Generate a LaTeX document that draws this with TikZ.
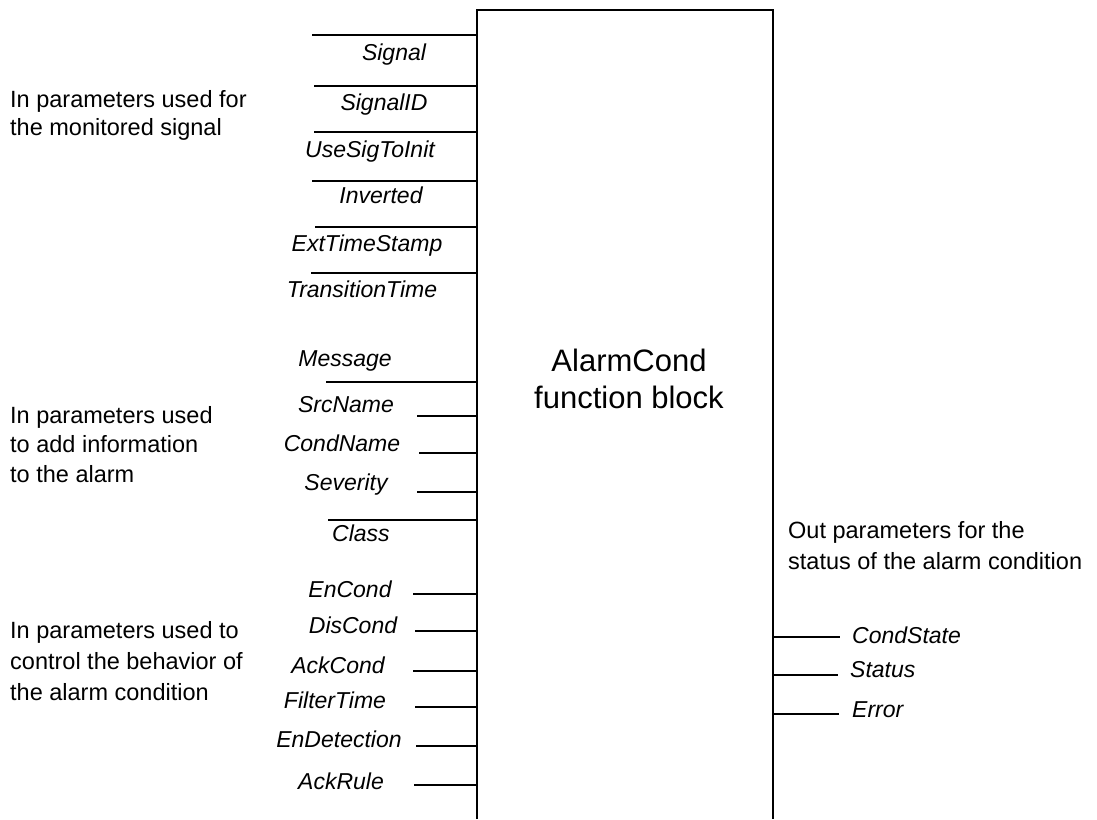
\documentclass[tikz,border=0pt]{standalone}
\usepackage{fontspec}
\setmainfont{Liberation Sans}
\usetikzlibrary{positioning}

\begin{document}
\begin{tikzpicture}[
  x=1pt,y=-1pt,
  fbline/.style={
    line width=2.4pt,
    draw=black
  },
  lead/.style={
    line width=1.7pt,
    draw=black
  },
  pinlabel/.style={
    anchor=base,
    inner sep=0pt,
    font=\fontsize{23}{27}\selectfont\itshape
  },
  outlabel/.style={
    anchor=base west,
    inner sep=0pt,
    font=\fontsize{23}{27}\selectfont\itshape
  },
  sidenote/.style={
    anchor=north west,
    inner sep=0pt,
    align=left,
    font=\fontsize{23.5}{29.5}\selectfont
  },
  blocktitle/.style={
    anchor=north,
    inner sep=0pt,
    align=center,
    font=\fontsize{31}{37}\selectfont
  }
]
\useasboundingbox (0,0) rectangle (1097,819);

% -------------------------------------------------
% Function block outline (open at the bottom)
% -------------------------------------------------
\coordinate (fbTL) at (477,10);
\coordinate (fbTR) at (773,10);
\coordinate (fbBL) at (477,819);
\coordinate (fbBR) at (773,819);
\draw[fbline] (fbBL) -- (fbTL) -- (fbTR) -- (fbBR);

\node[blocktitle] (title) at (629,349) {AlarmCond\\function block};

% -------------------------------------------------
% In parameters: monitored signal
% -------------------------------------------------
\node[sidenote, font=\fontsize{23.5}{28.3}\selectfont] (noteSig) at (10,90)
  {In parameters used for\\the monitored signal};

\coordinate (sigIn)    at (312,35);
\coordinate (sigidIn)  at (314,86);
\coordinate (useIn)    at (314,132);
\coordinate (invIn)    at (312,181);
\coordinate (extIn)    at (315,227);
\coordinate (transIn)  at (311,273);

\draw[lead] (sigIn)   -- (sigIn -| fbTL);
\draw[lead] (sigidIn) -- (sigidIn -| fbTL);
\draw[lead] (useIn)   -- (useIn -| fbTL);
\draw[lead] (invIn)   -- (invIn -| fbTL);
\draw[lead] (extIn)   -- (extIn -| fbTL);
\draw[lead] (transIn) -- (transIn -| fbTL);

\node[pinlabel] (sigLbl)   at (394,60)  {Signal};
\node[pinlabel] (sigidLbl) at (384,110) {SignalID};
\node[pinlabel] (useLbl)   at (370,157) {UseSigToInit};
\node[pinlabel] (invLbl)   at (381,203) {Inverted};
\node[pinlabel] (extLbl)   at (367,251) {ExtTimeStamp};
\node[pinlabel] (transLbl) at (362,297) {TransitionTime};

% -------------------------------------------------
% In parameters: alarm information
% -------------------------------------------------
\node[sidenote] (noteInfo) at (10,406)
  {In parameters used\\to add information\\to the alarm};

\coordinate (msgIn)   at (326,382);
\coordinate (srcIn)   at (417,416);
\coordinate (cnameIn) at (419,453);
\coordinate (sevIn)   at (417,492);
\coordinate (clsIn)   at (328,520);

\draw[lead] (msgIn)   -- (msgIn -| fbTL);
\draw[lead] (srcIn)   -- (srcIn -| fbTL);
\draw[lead] (cnameIn) -- (cnameIn -| fbTL);
\draw[lead] (sevIn)   -- (sevIn -| fbTL);
\draw[lead] (clsIn)   -- (clsIn -| fbTL);

\node[pinlabel] (msgLbl)   at (345,366) {Message};
\node[pinlabel] (srcLbl)   at (346,412) {SrcName};
\node[pinlabel] (cnameLbl) at (342,451) {CondName};
\node[pinlabel] (sevLbl)   at (346,490) {Severity};
\node[pinlabel] (clsLbl)   at (361,541) {Class};

% -------------------------------------------------
% In parameters: behavior control
% -------------------------------------------------
\node[sidenote, font=\fontsize{23.5}{31}\selectfont] (noteCtrl) at (10,621)
  {In parameters used to\\control the behavior of\\the alarm condition};

\coordinate (encIn)  at (413,594);
\coordinate (discIn) at (415,631);
\coordinate (ackcIn) at (413,671);
\coordinate (filtIn) at (415,707);
\coordinate (endtIn) at (416,746);
\coordinate (ackrIn) at (414,785);

\draw[lead] (encIn)  -- (encIn -| fbTL);
\draw[lead] (discIn) -- (discIn -| fbTL);
\draw[lead] (ackcIn) -- (ackcIn -| fbTL);
\draw[lead] (filtIn) -- (filtIn -| fbTL);
\draw[lead] (endtIn) -- (endtIn -| fbTL);
\draw[lead] (ackrIn) -- (ackrIn -| fbTL);

\node[pinlabel] (encLbl)  at (350,597) {EnCond};
\node[pinlabel] (discLbl) at (353,633) {DisCond};
\node[pinlabel] (ackcLbl) at (338,673) {AckCond};
\node[pinlabel] (filtLbl) at (335,708) {FilterTime};
\node[pinlabel] (endtLbl) at (339,747) {EnDetection};
\node[pinlabel] (ackrLbl) at (341,789) {AckRule};

% -------------------------------------------------
% Out parameters: alarm condition status
% -------------------------------------------------
\node[sidenote, font=\fontsize{23.5}{31.7}\selectfont] (noteOut) at (788,521)
  {Out parameters for the\\status of the alarm condition};

\coordinate (cstOut) at (840,637);
\coordinate (staOut) at (838,675);
\coordinate (errOut) at (839,714);

\draw[lead] (cstOut -| fbTR) -- (cstOut);
\draw[lead] (staOut -| fbTR) -- (staOut);
\draw[lead] (errOut -| fbTR) -- (errOut);

\node[outlabel] (cstLbl) at (852,643) {CondState};
\node[outlabel] (staLbl) at (850,677) {Status};
\node[outlabel] (errLbl) at (852,717) {Error};

\end{tikzpicture}
\end{document}
